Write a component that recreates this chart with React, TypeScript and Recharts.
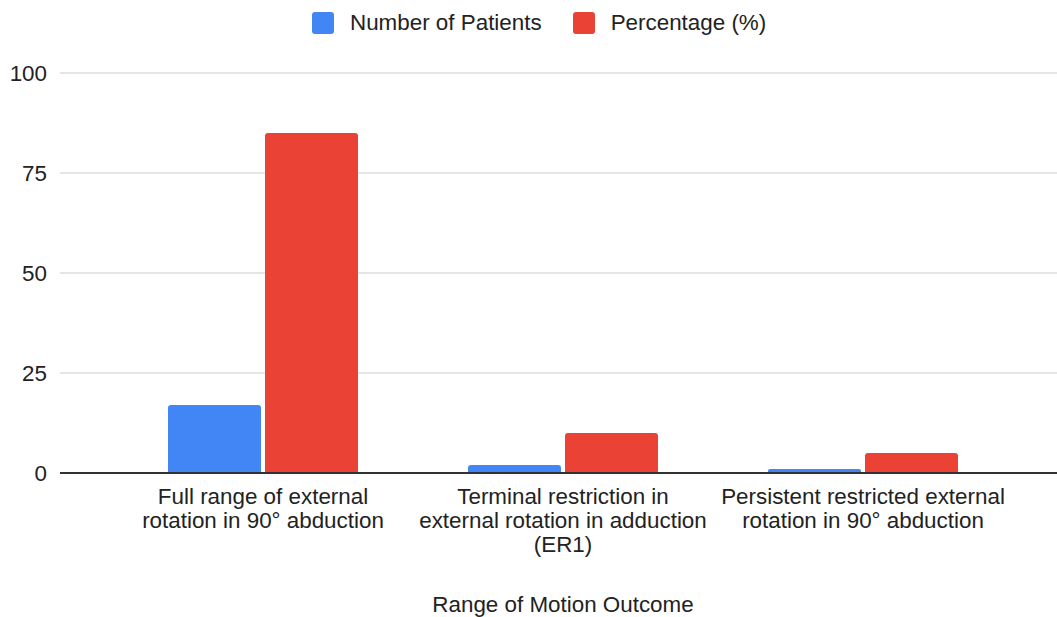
import { Bar, BarChart, CartesianGrid, Legend, XAxis, YAxis } from "recharts";

const categories = [
  "Full range of external rotation in 90° abduction",
  "Terminal restriction in external rotation in adduction (ER1)",
  "Persistent restricted external rotation in 90° abduction",
];
const tickLines = [
  ["Full range of external", "rotation in 90° abduction"],
  ["Terminal restriction in", "external rotation in adduction", "(ER1)"],
  ["Persistent restricted external", "rotation in 90° abduction"],
];
const patients = [17, 2, 1];
const percentage = [85, 10, 5];
const yTicks = [0, 25, 50, 75, 100];

const FONT = '"Liberation Sans", Arial, sans-serif';
const FS = 22.4;

const data = categories.map((c, i) => ({
  name: c,
  patients: patients[i],
  percentage: percentage[i],
}));

function CategoryTick({ x, y, index }: any) {
  const lines = tickLines[index] || [];
  return (
    <text x={x} y={y} textAnchor="middle" fontSize={FS} fill="#222" fontFamily={FONT}>
      {lines.map((l, i) => (
        <tspan key={i} x={x} dy={i === 0 ? 31 : 24}>
          {l}
        </tspan>
      ))}
    </text>
  );
}

function TopLegend({ payload }: any) {
  return (
    <div style={{ height: 73, display: "flex", paddingLeft: 312, paddingTop: 12, boxSizing: "border-box" }}>
      {(payload || []).map((p: any, i: number) => (
        <div key={i} style={{ display: "flex", alignItems: "center", height: 22, marginRight: 31 }}>
          <span style={{ width: 22, height: 22, borderRadius: 3, background: p.color, marginRight: 16 }} />
          <span style={{ fontSize: FS, color: "#222", fontFamily: FONT }}>{p.value}</span>
        </div>
      ))}
    </div>
  );
}

export default function App() {
  return (
    <div style={{ position: "absolute", left: 0, top: 0, width: 1057, height: 617, overflow: "hidden", background: "#fff", fontFamily: FONT }}>
      <BarChart width={1066} height={617} data={data} margin={{ top: 0, right: 0, bottom: 0, left: 0 }} barSize={93} barGap={4}>
        <CartesianGrid vertical={false} stroke="#ccc" />
        <Legend verticalAlign="top" wrapperStyle={{ top: 0, left: 0 }} content={<TopLegend />} />
        <XAxis
          dataKey="name"
          height={144}
          padding={{ left: 53, right: 53 }}
          axisLine={{ stroke: "#333", strokeWidth: 2 }}
          tickLine={false}
          tickSize={0}
          tickMargin={0}
          interval={0}
          tick={<CategoryTick />}
          label={{ value: "Range of Motion Outcome", position: "insideBottom", offset: 5, fontSize: FS, fill: "#222", fontFamily: FONT }}
        />
        <YAxis
          width={60}
          domain={[0, 100]}
          ticks={yTicks}
          axisLine={false}
          tickLine={false}
          tickSize={6}
          tickMargin={7}
          tick={{ fontSize: FS, fill: "#222", fontFamily: FONT }}
        />
        <Bar dataKey="patients" name="Number of Patients" fill="#4285F4" radius={[3, 3, 0, 0]} isAnimationActive={false} />
        <Bar dataKey="percentage" name="Percentage (%)" fill="#EA4335" radius={[3, 3, 0, 0]} isAnimationActive={false} />
      </BarChart>
    </div>
  );
}
